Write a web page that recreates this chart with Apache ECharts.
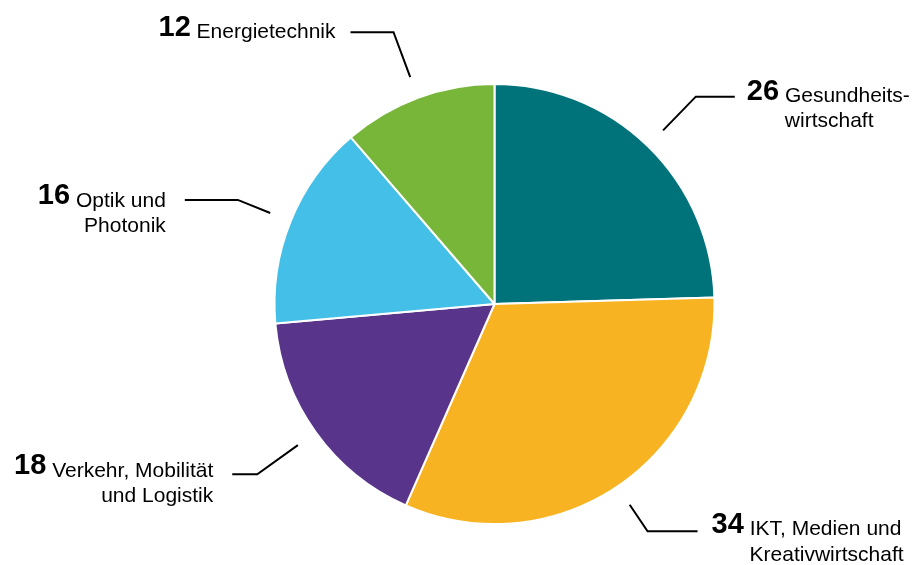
<!DOCTYPE html>
<html>
<head>
<meta charset="utf-8">
<script src="https://cdn.jsdelivr.net/npm/echarts@6/dist/echarts.min.js"></script>
<style>
  html, body { margin: 0; background: #fff; }
  #pieChart { width: 915px; height: 565px; }
</style>
</head>
<body>
<div id="pieChart"></div>
<script>
const categories = ['Gesundheits-\nwirtschaft', 'IKT, Medien und\nKreativwirtschaft', 'Verkehr, Mobilität\nund Logistik', 'Optik und\nPhotonik', 'Energietechnik'];
const values = [26, 34, 18, 16, 12];
const colors = ['#00727a', '#f8b322', '#58358a', '#43bfe8', '#78b63a'];

// leader line lengths and small text nudges per slice
const labelTweaks = [
  { length: 47, length2: 39, dist: 12, padding: [20, 0, 0, 0] },
  { length: 32, length2: 50, dist: 14, padding: [17, 0, 0, 0] },
  { length: 50, length2: 25, dist: 19, padding: [14, 0, 0, 0] },
  { length: 35, length2: 53, dist: 19, padding: [23, 0, 0, 0] },
  { length: 48, length2: 43, dist: 15, padding: [0, 0, 8, 0] }
];

const font = "'Liberation Sans', Arial, sans-serif";
const total = values.reduce((a, b) => a + b, 0);
let acc = 0;
const onRight = values.map(v => { const mid = (acc + v / 2) / total; acc += v; return mid < 0.5; });

function labelText(i) {
  const lines = categories[i].split('\n');
  let s = '{num|' + values[i] + '}{txt| ' + lines[0] + '}';
  if (lines[1]) s += '\n' + (onRight[i] ? '{ind|' : '{l2|') + lines[1] + '}';
  return s;
}

const center = [494.5, 304];
const chart = echarts.init(document.getElementById('pieChart'));
chart.setOption({
  animation: false,
  series: [
    {
      type: 'pie',
      radius: 220,
      center: center,
      startAngle: 90,
      silent: true,
      label: { show: false },
      labelLine: { show: false },
      itemStyle: { borderColor: '#fff', borderWidth: 2 },
      data: values.map((v, i) => ({ value: v, name: categories[i], itemStyle: { color: colors[i] } }))
    },
    {
      // invisible ring just outside the pie, carries labels and leader lines
      type: 'pie',
      radius: [241, 242],
      center: center,
      startAngle: 90,
      silent: true,
      avoidLabelOverlap: false,
      itemStyle: { color: 'rgba(0,0,0,0)', borderWidth: 0 },
      label: {
        show: true,
        position: 'outside',
        color: '#000',
        fontFamily: font,
        fontSize: 21,
        width: 230,
        overflow: 'none',
        formatter: p => labelText(p.dataIndex),
        rich: {
          num: { fontFamily: font, fontSize: 29, fontWeight: 'bold', lineHeight: 30, color: '#000' },
          txt: { fontFamily: font, fontSize: 21, lineHeight: 21, verticalAlign: 'bottom', color: '#000' },
          l2: { fontFamily: font, fontSize: 21, lineHeight: 30, color: '#000' },
          ind: { fontFamily: font, fontSize: 21, lineHeight: 30, padding: [0, 0, 0, 38], color: '#000' }
        }
      },
      labelLine: {
        show: true,
        smooth: false,
        lineStyle: { color: '#000', width: 2 }
      },
      data: values.map((v, i) => ({
        value: v,
        name: categories[i],
        label: { distanceToLabelLine: labelTweaks[i].dist, padding: labelTweaks[i].padding },
        labelLine: { length: labelTweaks[i].length, length2: labelTweaks[i].length2 }
      }))
    }
  ]
});
</script>
</body>
</html>
